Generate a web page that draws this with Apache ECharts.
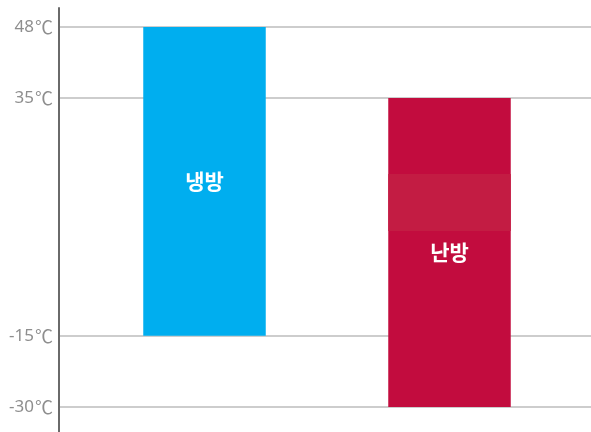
<!DOCTYPE html>
<html>
<head>
<meta charset="utf-8">
<script src="https://cdn.jsdelivr.net/npm/echarts@6/dist/echarts.min.js"></script>
<style>
html,body{margin:0;padding:0;background:#fff;}
#chart{width:591px;height:432px;}
</style>
</head>
<body>
<div id="chart"></div>
<script>
// ---- data ----
const categories = ['냉방', '난방'];
const lowValues = [-15, -30];
const highValues = [48, 35];
const heatBand = [7, 19];          // lighter band inside the 난방 bar
const tickValues = [-30, -15, 35, 48];
const tickLabels = ['-30℃', '-15℃', '35℃', '48℃'];

// ---- scale: linear up to 35, slightly stretched above ----
const BREAK = 35, STRETCH = 1.149;
function t(v) { return v <= BREAK ? v : BREAK + (v - BREAK) * STRETCH; }

const colors = ['#00aeef', '#c20c3e'];
const bandColor = '#c31c43';

const tickPos = tickValues.map(t);
const yMin = t(-30) - 5.26;
const yMax = t(48) + 4.0;

function labelFor(v) {
  for (let i = 0; i < tickPos.length; i++) {
    if (Math.abs(tickPos[i] - v) < 1e-6) {
      const s = tickLabels[i];
      const num = s.replace('℃', '');
      return '{n|' + num + '}{u|℃}';
    }
  }
  return '';
}

const seriesData = categories.map((c, i) => [i, t(lowValues[i]), t(highValues[i])]);

const chart = echarts.init(document.getElementById('chart'), null, {renderer: 'canvas'});
chart.setOption({
  animation: false,
  backgroundColor: '#fff',
  grid: [
    {left: 59, right: 0, top: 8, bottom: 0, outerBoundsMode: 'none', containLabel: false},
    {left: 82, right: 19, top: 8, bottom: 0, outerBoundsMode: 'none', containLabel: false}
  ],
  xAxis: [
    {gridIndex: 0, type: 'category', data: categories, show: false},
    {gridIndex: 1, type: 'category', data: categories, show: false}
  ],
  yAxis: [
    {
      gridIndex: 0, type: 'value', min: yMin, max: yMax,
      axisLine: {show: true, lineStyle: {color: '#6a6a6a', width: 2}},
      axisTick: {show: false, customValues: tickPos},
      axisLabel: {
        show: true, customValues: tickPos, formatter: labelFor,
        color: '#8e8e8e', fontSize: 17, margin: 6,
        rich: {
          n: {fontFamily: '"Noto Sans", sans-serif', fontSize: 17, color: '#8e8e8e'},
          u: {fontFamily: '"Noto Sans CJK KR", sans-serif', fontSize: 18, color: '#8e8e8e', padding: [0, 0, 0, 1]}
        }
      },
      splitLine: {show: true, customValues: tickPos, lineStyle: {color: '#bcbcbc', width: 1.5}}
    },
    {
      gridIndex: 1, type: 'value', min: yMin, max: yMax, show: false,
      splitLine: {show: false}
    }
  ],
  series: [{
    type: 'custom',
    xAxisIndex: 1, yAxisIndex: 1,
    data: seriesData,
    renderItem: function (params, api) {
      const idx = api.value(0);
      const lo = api.value(1), hi = api.value(2);
      const pLo = api.coord([idx, lo]);
      const pHi = api.coord([idx, hi]);
      const w = api.size([1, 0])[0] * 0.5;
      const x = pLo[0] - w / 2;
      const children = [{
        type: 'rect',
        shape: {x: x, y: pHi[1], width: w, height: pLo[1] - pHi[1]},
        style: {fill: colors[idx]}
      }];
      if (idx === 1) {
        const b1 = api.coord([idx, t(heatBand[0])]);
        const b2 = api.coord([idx, t(heatBand[1])]);
        children.push({
          type: 'rect',
          shape: {x: x, y: b2[1], width: w, height: b1[1] - b2[1]},
          style: {fill: bandColor}
        });
      }
      children.push({
        type: 'text',
        style: {
          text: categories[idx],
          x: pLo[0], y: (pLo[1] + pHi[1]) / 2,
          align: 'center', verticalAlign: 'middle',
          fill: '#ffffff', fontSize: 21, fontWeight: 'bold',
          fontFamily: '"Noto Sans CJK KR", sans-serif'
        }
      });
      return {type: 'group', children: children};
    }
  }]
});
</script>
</body>
</html>
